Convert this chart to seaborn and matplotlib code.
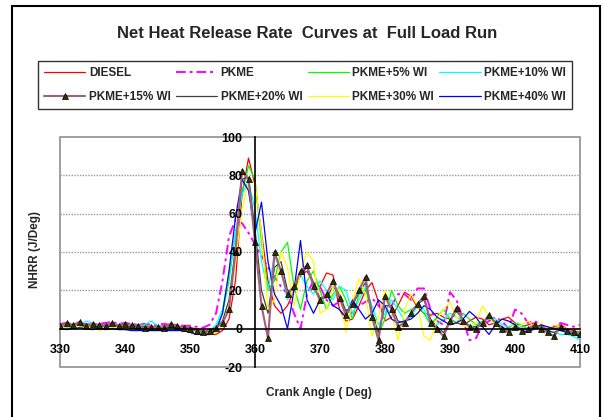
import matplotlib
matplotlib.use("Agg")
import matplotlib.pyplot as plt
import seaborn as sns
from matplotlib.patches import Rectangle

crank_angle = list(range(330, 411))

diesel = [1.5, 1.5, 2, 2, 1.5, 1, 1.5, 2, 2, 1.5,
          1, 1.5, 2, 1.5, 1, 1, 1.5, 1.5, 1, 1,
          0.5, 0, -1, -3, -3, -1, 5, 25, 70, 89,
          75, 50, 25, 12, 8, 12, 20, 28, 30, 24,
          22, 29, 28, 10, 4, 5, 12, 20, 24, 14,
          4, 6, 12, 19, 17, 11, 8, 7, 8, 6,
          5, 3, 2, 4, 6, 5, 2, 3, 5, 6,
          3, 1, 2, 3, 1, 0, 1, 2, 0, -1, -2]

pkme = [2.5, 3, 2.5, 2, 2.5, 2, 2.5, 3, 3.5, 2.5,
        3, 2.5, 2, 2.5, 2, 2, 2.5, 2, 2, 1.5,
        1.5, 1, 0.5, 2, 8, 25, 48, 57, 55, 50,
        44, 38, 32, 27, 22, 18, 8, 0, 18, 25,
        22, 15, 12, 14, 10, 8, 12, 14, 16, 12,
        8, 12, 18, 18, 15, 21, 21, 10, 4, 2,
        19, 15, 5, -6, -5, 2, 4, 6, 4, 0,
        10, 8, 3, 4, 2, 0, 1, 3, 2, 1, 2]

pkme_5wi = [1, 1.5, 1, 1.5, 1, 1.5, 1, 1, 1.5, 1,
            0, 1, 1, 1.5, 1, 1, 0.5, 0.5, 0.5, 0,
            -0.5, -2, -2, -3, 0, 8, 25, 50, 70, 85,
            78, 45, 20, 25, 40, 45, 22, 10, 25, 30,
            20, 10, 18, 22, 15, 5, 18, 21, 8, -3,
            5, 20, 12, 8, 10, 12, 8, 2, 6, 10,
            5, 3, 8, 5, 2, 4, 5, 4, -2, 0,
            3, 2, 0, 2, 1, -1, 0, 1, -1, -2, -2]

pkme_10wi = [2, 1, 0.5, 2, 4, 3, 1, 2, 2.5, 2,
             1, 2, 1.5, 2, 4, 1.5, 1, 1.5, 1, 0.5,
             0, -1, -2, -1, 2, 10, 28, 50, 70, 77,
             62, 35, 20, 38, 30, 15, 22, 28, 22, 18,
             25, 20, 15, 22, 20, 8, 15, 22, 12, 2,
             8, 15, 10, 4, 6, 12, 10, 3, 2, 5,
             8, 6, 4, 2, 1, 3, 6, 5, 2, 1,
             2, 1, 0, 1, 0, -1, -2, -3, -3, -4, -6]

pkme_15wi = [1.5, 3, 2, 3.5, 1.5, 2.5, 2, 1.5, 3, 1.5,
             2.5, 2, 1.5, 0.5, 1, 1, 0.5, 2.5, 1.5, 0.5,
             0, -1, -1.5, -1, 0.5, 3, 10, 40, 82, 78,
             45, 12, -5, 40, 30, 18, 22, 30, 33, 22,
             15, 18, 25, 16, 7, 13, 20, 27, 6, -6,
             17, 10, 1, 3, 8, 13, 17, 3, 0, -4,
             4, 11, 4, 1, 0, 3, 7, 3, 0, -2,
             1, -1, 0, 2, 0, -2, -4, 1, -1, -2, -3]

pkme_20wi = [1, 1, 1.5, 1, 1, 1, 1, 1.5, 1, 1,
             0.5, 1, 1, 1, 0.5, 0.5, 0.5, 0.5, 0.5, 0,
             0, -1, -1.5, -1.5, 0, 4, 15, 42, 78, 79,
             52, 20, 8, 32, 35, 20, 20, 28, 32, 24,
             16, 16, 22, 18, 9, 12, 19, 24, 9, -2,
             12, 12, 4, 3, 8, 13, 15, 5, 1, -2,
             4, 9, 5, 1, 1, 3, 6, 3, 1, -1,
             1, 0, 0, 1, 0, -1, -2, 0, -1, -2, -3]

pkme_30wi = [0.5, 1, 1.5, 1, 0.5, 1, -1, 0, 1, 0.5,
             0.5, 0, 0.5, 0, 0.5, 0.5, 0, 0, 0, -0.5,
             -1, -2, -3, -3.5, -2, 2, 12, 35, 62, 77,
             76, 50, 10, 15, 40, 32, 12, 30, 40, 35,
             8, 10, 22, 20, -2, 15, 26, 18, -4, 6,
             20, 8, -6, 10, 18, 12, -4, -6, 5, 10,
             14, 6, 2, 0, 3, 12, 6, 2, 5, 4,
             0, 2, 4, 1, 3, 0, 2, 1, 0, 0, 0]

pkme_40wi = [0, -0.5, 0, 0.5, 0, -0.5, 0, -0.5, 0, -0.5,
             -0.5, -1, -1, -1, -1, -1, -1, -1, -1, -1,
             -2, -3, -3, -3, -1, 8, 30, 58, 78, 72,
             50, 66, 35, 18, 12, 0, 20, 46, 15, 8,
             15, 18, 12, 10, 6, 15, 10, 5, 8, 15,
             12, 5, 3, 4, 5, 8, 12, 10, 6, 4,
             2, 3, 5, 9, 6, 1, -3, 2, 5, 4,
             2, -1, -2, 0, 2, 1, 0, -1, -2, -3, -4]

x_ticks = list(range(330, 411, 10))
y_ticks = list(range(-20, 101, 20))

sns.set_style("white")
plt.rcParams["font.family"] = ["Liberation Sans", "DejaVu Sans"]
plt.rcParams["font.weight"] = "bold"
plt.rcParams["axes.unicode_minus"] = False

fig = plt.figure(figsize=(6.03, 4.17), dpi=100)
ax = fig.add_axes([60 / 603, 1 - 367 / 417, 520 / 603, 230 / 417])

# name, values, colour, linestyle, width
series = [
    ("DIESEL", diesel, "#FF0000", "-", 0.9),
    ("PKME", pkme, "#FF00FF", (0, (5, 2, 1.5, 2)), 1.4),
    ("PKME+5% WI", pkme_5wi, "#00FF00", "-", 0.9),
    ("PKME+10% WI", pkme_10wi, "#00FFFF", "-", 0.9),
    ("PKME+15% WI", pkme_15wi, "#A0607F", "-", 1.5),
    ("PKME+20% WI", pkme_20wi, "#404040", "-", 0.9),
    ("PKME+30% WI", pkme_30wi, "#FFFF00", "-", 0.9),
    ("PKME+40% WI", pkme_40wi, "#0000FF", "-", 0.9),
]

for name, vals, col, ls, lw in series:
    extra = {}
    if name == "PKME+15% WI":
        extra = dict(marker="^", markersize=4.2, markerfacecolor="#333300",
                     markeredgecolor="black", markeredgewidth=0.5, zorder=2.2)
    sns.lineplot(x=crank_angle, y=vals, ax=ax, color=col, linestyle=ls,
                 linewidth=lw, label=name, **extra)

if ax.get_legend() is not None:
    ax.get_legend().remove()

ax.set_xlim(330, 410)
ax.set_ylim(-20, 100)
ax.set_xticks(x_ticks)
ax.set_yticks(y_ticks)
ax.set_xlabel("")
ax.set_ylabel("")
ax.set_axisbelow(False)  # tick labels sit on top of the curves

# dotted grey gridlines behind the curves
for yv in y_ticks[2:-1]:
    ax.axhline(yv, color="#9a9a9a", linestyle=(0, (1, 1)), linewidth=1.0, zorder=0.5)

# axes cross at (360, 0), grey frame round the plot area
ax.spines["left"].set_position(("data", 360))
ax.spines["bottom"].set_position(("data", 0))
for s in ["left", "bottom"]:
    ax.spines[s].set_color("black")
    ax.spines[s].set_linewidth(1.2)
ax.spines["top"].set_visible(False)
ax.spines["right"].set_visible(False)
ax.add_patch(Rectangle((0, 0), 1, 1, transform=ax.transAxes, fill=False,
                       edgecolor="#999999", linewidth=1.3, clip_on=False, zorder=1))

ax.tick_params(axis="x", direction="out", length=3, width=1, pad=8,
               labelsize=9, colors="black")
ax.tick_params(axis="y", direction="out", length=4, width=1, pad=5,
               labelsize=9, colors="black")

handles, labels = ax.get_legend_handles_labels()
# matplotlib fills legend columns first; reorder so entries read across rows
order = [0, 4, 1, 5, 2, 6, 3, 7]
leg = fig.legend([handles[i] for i in order], [labels[i] for i in order],
                 ncol=4, loc="center",
                 bbox_to_anchor=(38 / 603, 1 - 110 / 417, 534 / 603, 50 / 417),
                 mode="expand", frameon=True, fancybox=False, edgecolor="black",
                 fontsize=8.5, handlelength=3.5, handletextpad=0.3,
                 borderaxespad=0, labelspacing=1.05, borderpad=0.5)
leg.get_frame().set_linewidth(1.0)

fig.text(307 / 603, 1 - 34 / 417, "Net Heat Release Rate  Curves at  Full Load Run",
         ha="center", va="center", fontsize=12, fontweight="bold")
fig.text(35 / 603, 1 - 250 / 417, "NHRR (J/Deg)", rotation=90,
         ha="center", va="center", fontsize=8.5, fontweight="bold")
fig.text(319 / 603, 1 - 393 / 417, "Crank Angle ( Deg)",
         ha="center", va="center", fontsize=8.5, fontweight="bold")

fig.patches.append(Rectangle((12 / 603, -0.05), 588 / 603, 1.05 - 6 / 417,
                             transform=fig.transFigure, fill=False,
                             edgecolor="black", linewidth=1.5))

fig.savefig("out.png", dpi=100)
plt.close(fig)
